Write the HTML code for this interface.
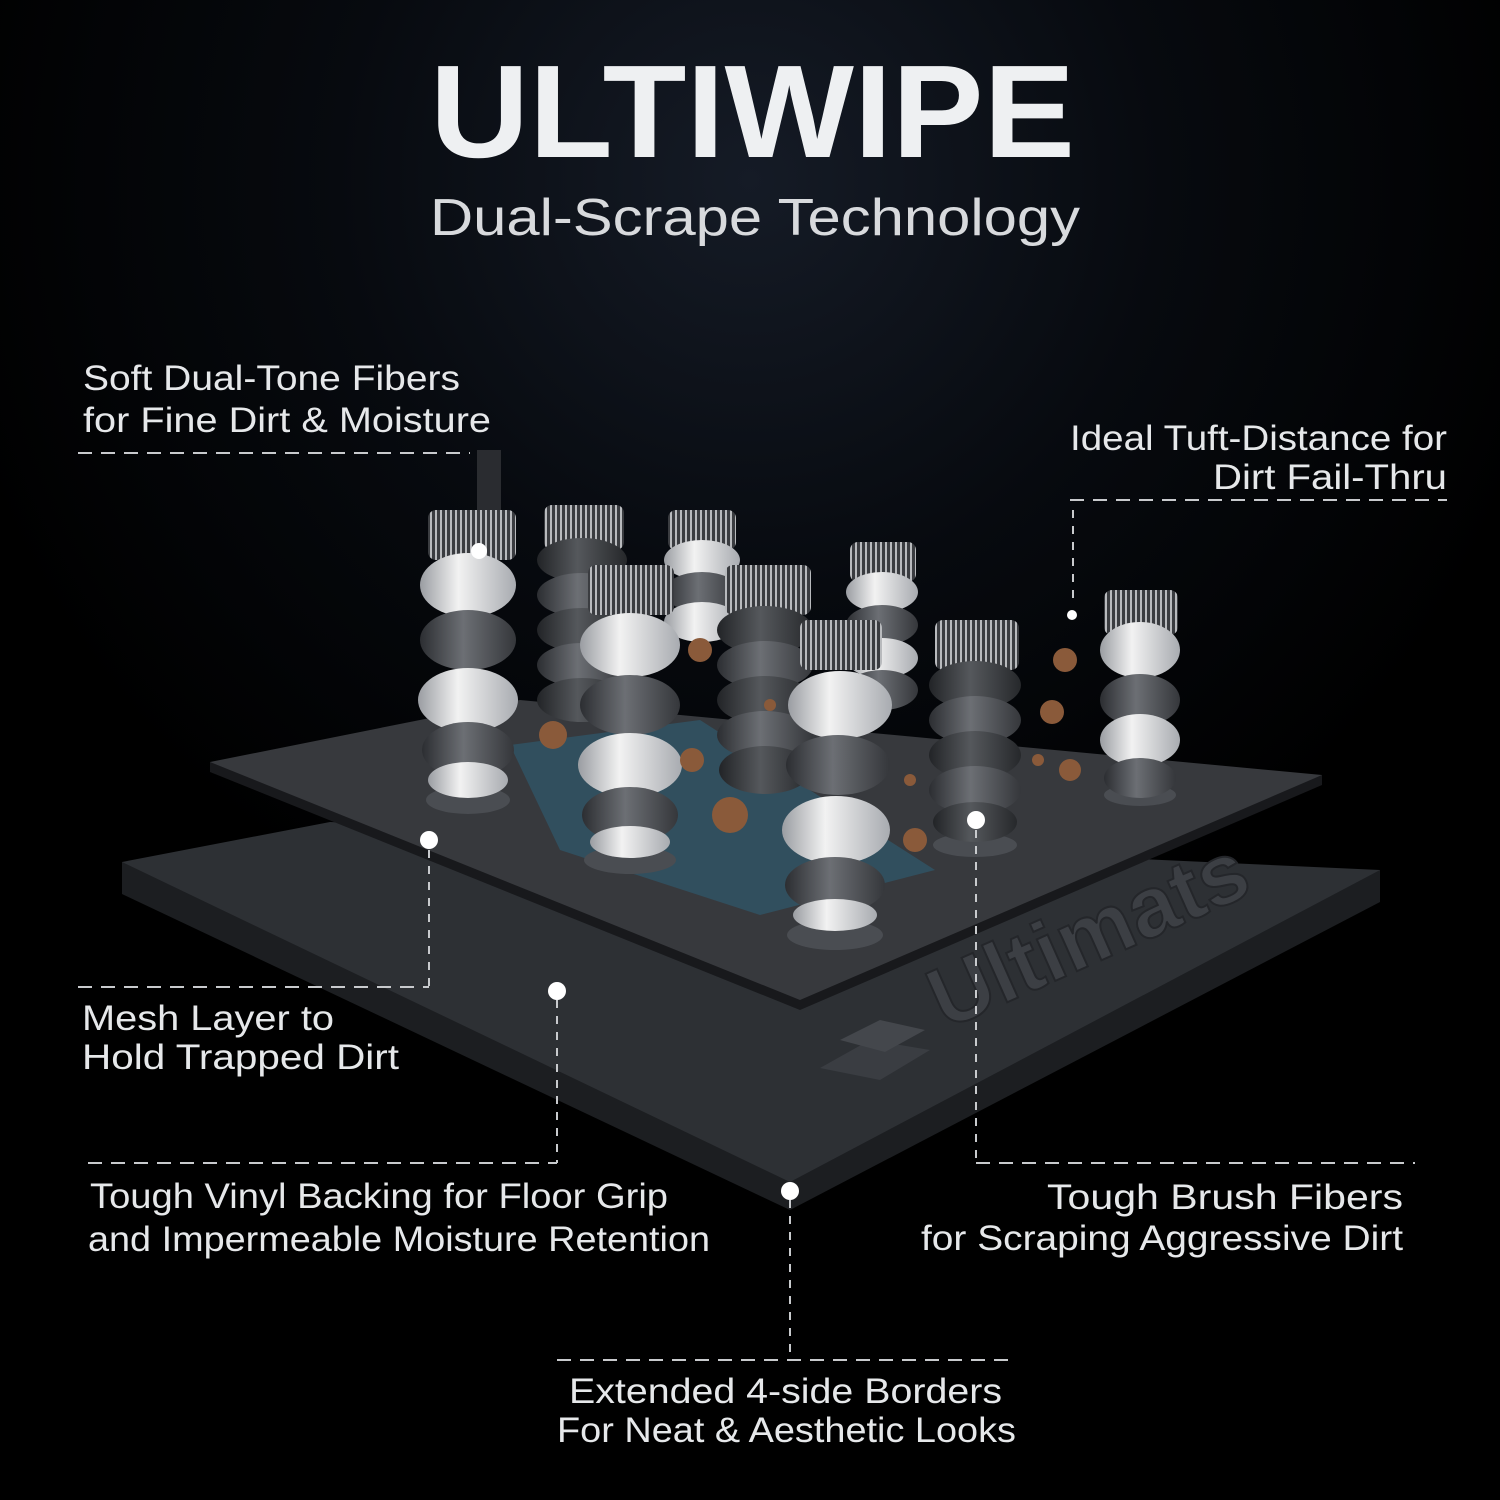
<!DOCTYPE html>
<html><head><meta charset="utf-8"><style>
html,body{margin:0;padding:0;background:#000;}
svg{display:block}
text{font-family:"Liberation Sans",sans-serif;}
</style></head><body>
<svg width="1500" height="1500" viewBox="0 0 1500 1500" xmlns="http://www.w3.org/2000/svg">
<defs>
<radialGradient id="bg" cx="0.5" cy="0.12" r="0.55">
<stop offset="0" stop-color="#151b26"/><stop offset="0.5" stop-color="#070a0f"/><stop offset="1" stop-color="#000"/>
</radialGradient>
<linearGradient id="wh" x1="0" x2="1"><stop offset="0" stop-color="#9a9da2"/><stop offset="0.4" stop-color="#f2f2f2"/><stop offset="1" stop-color="#a8abb0"/></linearGradient>
<linearGradient id="gr" x1="0" x2="1"><stop offset="0" stop-color="#2c2e32"/><stop offset="0.45" stop-color="#6c6f74"/><stop offset="1" stop-color="#35373b"/></linearGradient>
<linearGradient id="dk" x1="0" x2="1"><stop offset="0" stop-color="#222427"/><stop offset="0.45" stop-color="#55585c"/><stop offset="1" stop-color="#26282b"/></linearGradient>
<pattern id="fib" width="5" height="10" patternUnits="userSpaceOnUse"><rect width="5" height="10" fill="#3a3c40"/><rect width="2" height="10" fill="#b8babd"/></pattern>
</defs>
<rect width="1500" height="1500" fill="url(#bg)"/>
<text x="430" y="157" textLength="645" lengthAdjust="spacingAndGlyphs" font-size="132" font-weight="bold" fill="#eef0f2">ULTIWIPE</text>
<text x="430" y="235" textLength="650" lengthAdjust="spacingAndGlyphs" font-size="52" fill="#d8dadd">Dual-Scrape Technology</text>

<!-- bottom mat -->
<polygon points="122,862 122,894 790,1210 1380,902 1380,870" fill="#1c1e21"/>
<polygon points="122,862 330,822 1380,870 790,1182" fill="#2d3034"/>
<text x="0" y="0" font-size="86" font-weight="bold" fill="#3c3f44" stroke="#24262a" stroke-width="2" transform="translate(945,1030) rotate(-24)">Ultimats</text>
<polygon points="820,1068 870,1040 930,1050 880,1080" fill="#3a3d42"/>
<polygon points="840,1040 880,1020 925,1030 885,1052" fill="#44474c"/>
<!-- top mat -->
<polygon points="210,762 210,772 800,1010 1322,785 1322,775" fill="#18191c"/>
<polygon points="210,762 520,700 1322,775 800,1000" fill="#37393d"/>
<polygon points="510,745 700,720 935,870 760,915 560,850" fill="#2f5566" opacity="0.8"/>

<g id="pillars">
<g>
<rect x="544" y="505" width="80" height="45" fill="url(#fib)" rx="8"/>
<ellipse cx="582" cy="560" rx="45" ry="22" fill="url(#dk)"/><ellipse cx="582" cy="595" rx="45" ry="22" fill="url(#gr)"/><ellipse cx="582" cy="630" rx="45" ry="22" fill="url(#dk)"/><ellipse cx="582" cy="665" rx="45" ry="22" fill="url(#gr)"/><ellipse cx="582" cy="700" rx="45" ry="22" fill="url(#dk)"/>
</g>
<g>
<rect x="668" y="510" width="68" height="40" fill="url(#fib)" rx="8"/>
<ellipse cx="702" cy="560" rx="38" ry="20" fill="url(#wh)"/><ellipse cx="702" cy="592" rx="38" ry="20" fill="url(#gr)"/><ellipse cx="702" cy="622" rx="38" ry="20" fill="url(#wh)"/>
</g>
<g>
<rect x="850" y="542" width="66" height="40" fill="url(#fib)" rx="8"/>
<ellipse cx="882" cy="592" rx="36" ry="20" fill="url(#wh)"/><ellipse cx="882" cy="625" rx="36" ry="20" fill="url(#gr)"/><ellipse cx="882" cy="658" rx="36" ry="20" fill="url(#wh)"/><ellipse cx="882" cy="690" rx="36" ry="20" fill="url(#gr)"/>
</g>
<g>
<ellipse cx="468" cy="800" rx="42" ry="14" fill="#4a4d52"/>
<rect x="428" y="510" width="88" height="50" fill="url(#fib)" rx="8"/>
<ellipse cx="468" cy="585" rx="48" ry="32" fill="url(#wh)"/><ellipse cx="468" cy="640" rx="48" ry="30" fill="url(#gr)"/><ellipse cx="468" cy="700" rx="50" ry="32" fill="url(#wh)"/><ellipse cx="468" cy="750" rx="46" ry="28" fill="url(#gr)"/><ellipse cx="468" cy="780" rx="40" ry="18" fill="url(#wh)"/>
</g>
<g>
<rect x="725" y="565" width="86" height="50" fill="url(#fib)" rx="8"/>
<ellipse cx="765" cy="630" rx="48" ry="24" fill="url(#dk)"/><ellipse cx="765" cy="665" rx="48" ry="24" fill="url(#gr)"/><ellipse cx="765" cy="700" rx="48" ry="24" fill="url(#dk)"/><ellipse cx="765" cy="735" rx="48" ry="24" fill="url(#gr)"/><ellipse cx="765" cy="770" rx="46" ry="24" fill="url(#dk)"/>
</g>
<g>
<ellipse cx="975" cy="845" rx="42" ry="12" fill="#4a4d52"/>
<rect x="935" y="620" width="84" height="50" fill="url(#fib)" rx="8"/>
<ellipse cx="975" cy="685" rx="46" ry="24" fill="url(#dk)"/><ellipse cx="975" cy="720" rx="46" ry="24" fill="url(#gr)"/><ellipse cx="975" cy="755" rx="46" ry="24" fill="url(#dk)"/><ellipse cx="975" cy="790" rx="46" ry="24" fill="url(#gr)"/><ellipse cx="975" cy="822" rx="42" ry="20" fill="url(#dk)"/>
</g>
<g>
<ellipse cx="1140" cy="795" rx="36" ry="11" fill="#4a4d52"/>
<rect x="1104" y="590" width="74" height="45" fill="url(#fib)" rx="8"/>
<ellipse cx="1140" cy="650" rx="40" ry="28" fill="url(#wh)"/><ellipse cx="1140" cy="700" rx="40" ry="26" fill="url(#gr)"/><ellipse cx="1140" cy="740" rx="40" ry="26" fill="url(#wh)"/><ellipse cx="1140" cy="778" rx="36" ry="20" fill="url(#gr)"/>
</g>
<g>
<ellipse cx="630" cy="860" rx="46" ry="14" fill="#4a4d52"/>
<rect x="588" y="565" width="86" height="50" fill="url(#fib)" rx="8"/>
<ellipse cx="630" cy="645" rx="50" ry="32" fill="url(#wh)"/><ellipse cx="630" cy="705" rx="50" ry="30" fill="url(#gr)"/><ellipse cx="630" cy="765" rx="52" ry="32" fill="url(#wh)"/><ellipse cx="630" cy="815" rx="48" ry="28" fill="url(#gr)"/><ellipse cx="630" cy="842" rx="40" ry="16" fill="url(#wh)"/>
</g>
<g>
<ellipse cx="835" cy="935" rx="48" ry="15" fill="#4a4d52"/>
<rect x="800" y="620" width="82" height="50" fill="url(#fib)" rx="8"/>
<ellipse cx="840" cy="705" rx="52" ry="34" fill="url(#wh)"/><ellipse cx="838" cy="765" rx="52" ry="30" fill="url(#gr)"/><ellipse cx="836" cy="830" rx="54" ry="34" fill="url(#wh)"/><ellipse cx="835" cy="885" rx="50" ry="28" fill="url(#gr)"/><ellipse cx="835" cy="915" rx="42" ry="16" fill="url(#wh)"/>
</g>
<g fill="#8a5a3a">
<circle cx="700" cy="650" r="12"/><circle cx="553" cy="735" r="14"/><circle cx="692" cy="760" r="12"/><circle cx="730" cy="815" r="18"/><circle cx="915" cy="840" r="12"/><circle cx="1065" cy="660" r="12"/><circle cx="1052" cy="712" r="12"/><circle cx="1070" cy="770" r="11"/><circle cx="910" cy="780" r="6"/><circle cx="770" cy="705" r="6"/><circle cx="1038" cy="760" r="6"/>
</g>
</g>

<g stroke="#c8cacd" stroke-width="2" stroke-dasharray="14,9" fill="none">
<line x1="78" y1="453" x2="470" y2="453"/>
<line x1="1070" y1="500" x2="1447" y2="500"/>
<line x1="1073" y1="510" x2="1073" y2="605" stroke-dasharray="8,8"/>
<line x1="429" y1="850" x2="429" y2="987" stroke-dasharray="8,8"/>
<line x1="78" y1="987" x2="429" y2="987"/>
<line x1="557" y1="1000" x2="557" y2="1163" stroke-dasharray="8,8"/>
<line x1="88" y1="1163" x2="557" y2="1163"/>
<line x1="976" y1="830" x2="976" y2="1163" stroke-dasharray="8,8"/>
<line x1="976" y1="1163" x2="1415" y2="1163"/>
<line x1="790" y1="1200" x2="790" y2="1360" stroke-dasharray="8,8"/>
<line x1="557" y1="1360" x2="1015" y2="1360"/>
</g>
<rect x="477" y="450" width="24" height="60" fill="#2a2c30"/>
<g fill="#fff">
<circle cx="479" cy="551" r="8"/><circle cx="1072" cy="615" r="5"/><circle cx="429" cy="840" r="9"/><circle cx="557" cy="991" r="9"/><circle cx="976" cy="820" r="9"/><circle cx="790" cy="1191" r="9"/>
</g>
<g fill="#e6e8ea" font-size="35" lengthAdjust="spacingAndGlyphs">
<text x="83" y="390" textLength="377" lengthAdjust="spacingAndGlyphs">Soft Dual-Tone Fibers</text>
<text x="83" y="432" textLength="408" lengthAdjust="spacingAndGlyphs">for Fine Dirt &amp; Moisture</text>
<text x="1070" y="450" textLength="377" lengthAdjust="spacingAndGlyphs">Ideal Tuft-Distance for</text>
<text x="1213" y="489" textLength="234" lengthAdjust="spacingAndGlyphs">Dirt Fail-Thru</text>
<text x="82" y="1030" textLength="252" lengthAdjust="spacingAndGlyphs">Mesh Layer to</text>
<text x="82" y="1069" textLength="317" lengthAdjust="spacingAndGlyphs">Hold Trapped Dirt</text>
<text x="90" y="1208" textLength="578" lengthAdjust="spacingAndGlyphs">Tough Vinyl Backing for Floor Grip</text>
<text x="88" y="1251" textLength="622" lengthAdjust="spacingAndGlyphs">and Impermeable Moisture Retention</text>
<text x="1047" y="1209" textLength="356" lengthAdjust="spacingAndGlyphs">Tough Brush Fibers</text>
<text x="921" y="1250" textLength="482" lengthAdjust="spacingAndGlyphs">for Scraping Aggressive Dirt</text>
<text x="569" y="1403" textLength="433" lengthAdjust="spacingAndGlyphs">Extended 4-side Borders</text>
<text x="557" y="1442" textLength="459" lengthAdjust="spacingAndGlyphs">For Neat &amp; Aesthetic Looks</text>
</g>
</svg>
</body></html>
